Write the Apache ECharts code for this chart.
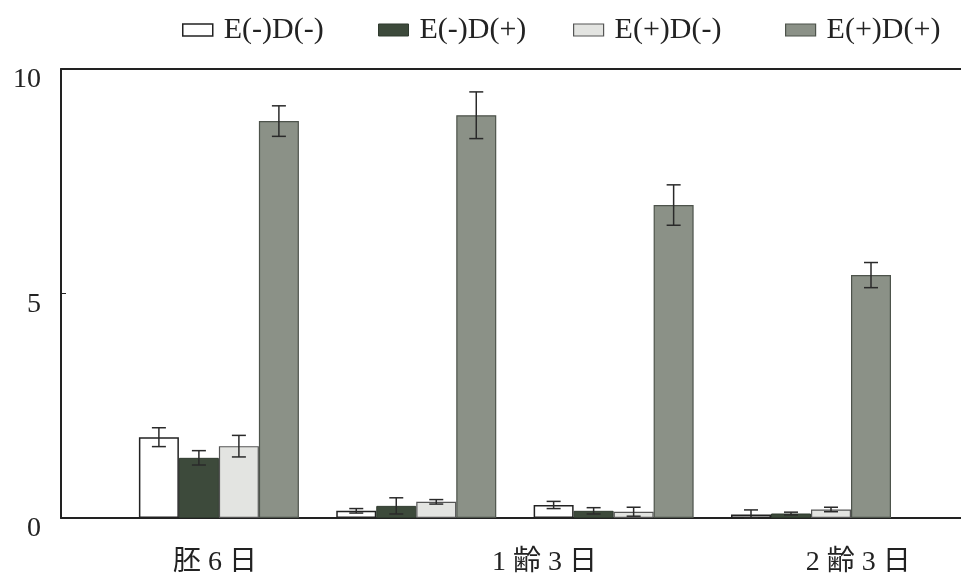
<!DOCTYPE html>
<html><head><meta charset="utf-8">
<script src="https://cdn.jsdelivr.net/npm/echarts@6/dist/echarts.min.js"></script>
<style>html,body{margin:0;padding:0;background:#fff}#c{width:961px;height:580px}</style>
</head><body><div id="c"></div>
<script>
// ---- data ----
const groupPos = [0, 1, 2, 3];
const seriesNames = ['E(-)D(-)', 'E(-)D(+)', 'E(+)D(-)', 'E(+)D(+)'];
const meanEnDn = [1.80, 0.16, 0.29, 0.08];
const errEnDn  = [0.21, 0.05, 0.08, 0.10];
const meanEnDp = [1.34, 0.27, 0.16, 0.10];
const errEnDp  = [0.16, 0.18, 0.07, 0.03];
const meanEpDn = [1.60, 0.36, 0.14, 0.19];
const errEpDn  = [0.24, 0.05, 0.10, 0.05];
const meanEpDp = [8.84, 8.97, 6.97, 5.41];
const errEpDp  = [0.34, 0.52, 0.45, 0.28];
const xLabels = ['胚 6 日', '1 齢 3 日', '2 齢 3 日'];
const xLabelAt = [-0.02, 1.65, 3.24];
const yTicks = [0, 5, 10];

// ---- styles ----
const FONT = '"Liberation Serif", "DejaVu Serif", "Noto Sans CJK JP", serif';
const barW = 40;
const styles = [
  {color: '#ffffff', borderColor: '#222', borderWidth: 1.5},
  {color: '#3d4a3b', borderColor: '#2f3a2e', borderWidth: 1},
  {color: '#e3e4e1', borderColor: '#555', borderWidth: 1.2},
  {color: '#8b9187', borderColor: '#4d534b', borderWidth: 1.2}
];
const legendLeft = [177, 373, 568, 780];
const means = [meanEnDn, meanEnDp, meanEpDn, meanEpDp];
const errs = [errEnDn, errEnDp, errEpDn, errEpDp];

const series = [];
means.forEach((m, i) => {
  series.push({
    name: seriesNames[i], type: 'bar', barWidth: barW, barGap: '0%',
    itemStyle: styles[i], data: groupPos.map((x, k) => [x, m[k]]), z: 2
  });
});
means.forEach((m, i) => {
  series.push({
    name: 'err' + i, type: 'custom', z: 5,
    encode: {x: 0, y: 1},
    data: groupPos.map((x, k) => [x, m[k], errs[i][k]]),
    renderItem: (params, api) => {
      const x = api.value(0), mv = api.value(1), e = api.value(2);
      const off = (i - 1.5) * barW;
      const top = api.coord([x, mv + e]);
      const bot = api.coord([x, Math.max(0, mv - e)]);
      const cx = top[0] + off, hw = 7;
      const st = {stroke: '#2a2a2a', lineWidth: 1.5};
      return {type: 'group', children: [
        {type: 'line', shape: {x1: cx, y1: top[1], x2: cx, y2: bot[1]}, style: st},
        {type: 'line', shape: {x1: cx - hw, y1: top[1], x2: cx + hw, y2: top[1]}, style: st},
        {type: 'line', shape: {x1: cx - hw, y1: bot[1], x2: cx + hw, y2: bot[1]}, style: st}
      ]};
    }
  });
});

const chart = echarts.init(document.getElementById('c'));
chart.setOption({
  animation: false,
  backgroundColor: '#fff',
  grid: {left: 61, right: 0, top: 69, bottom: 62},
  legend: seriesNames.map((n, i) => ({
    data: [n], left: legendLeft[i], top: 10, icon: 'rect',
    itemWidth: 30, itemHeight: 12, itemGap: 0,
    itemStyle: styles[i],
    textStyle: {fontFamily: FONT, fontSize: 30, color: '#222', padding: [0, 0, 0, 6]},
    selectedMode: false
  })),
  xAxis: [{
    type: 'value', min: -0.8, max: 3.76, position: 'bottom',
    axisLine: {show: true, onZero: false, lineStyle: {color: '#222', width: 2}},
    axisTick: {show: false}, splitLine: {show: false},
    axisLabel: {
      customValues: xLabelAt,
      formatter: (v) => { const k = xLabelAt.findIndex(a => Math.abs(a - v) < 1e-6); return k >= 0 ? xLabels[k] : ''; },
      fontFamily: FONT, fontSize: 28, color: '#222', margin: 31
    }
  }, {
    type: 'value', min: -0.8, max: 3.76, position: 'top',
    axisLine: {show: true, onZero: false, lineStyle: {color: '#222', width: 2}},
    axisTick: {show: false}, splitLine: {show: false}, axisLabel: {show: false}
  }],
  yAxis: {
    type: 'value', min: 0, max: 10, interval: 5, position: 'left',
    axisLine: {show: true, onZero: false, lineStyle: {color: '#222', width: 2}},
    axisTick: {show: true, inside: true, length: 5, lineStyle: {color: '#222'}},
    splitLine: {show: false},
    axisLabel: {
      customValues: yTicks,
      fontFamily: FONT, fontSize: 28, color: '#222', margin: 20,
      verticalAlign: 'top', lineHeight: 22
    }
  },
  series: series
});
</script></body></html>
